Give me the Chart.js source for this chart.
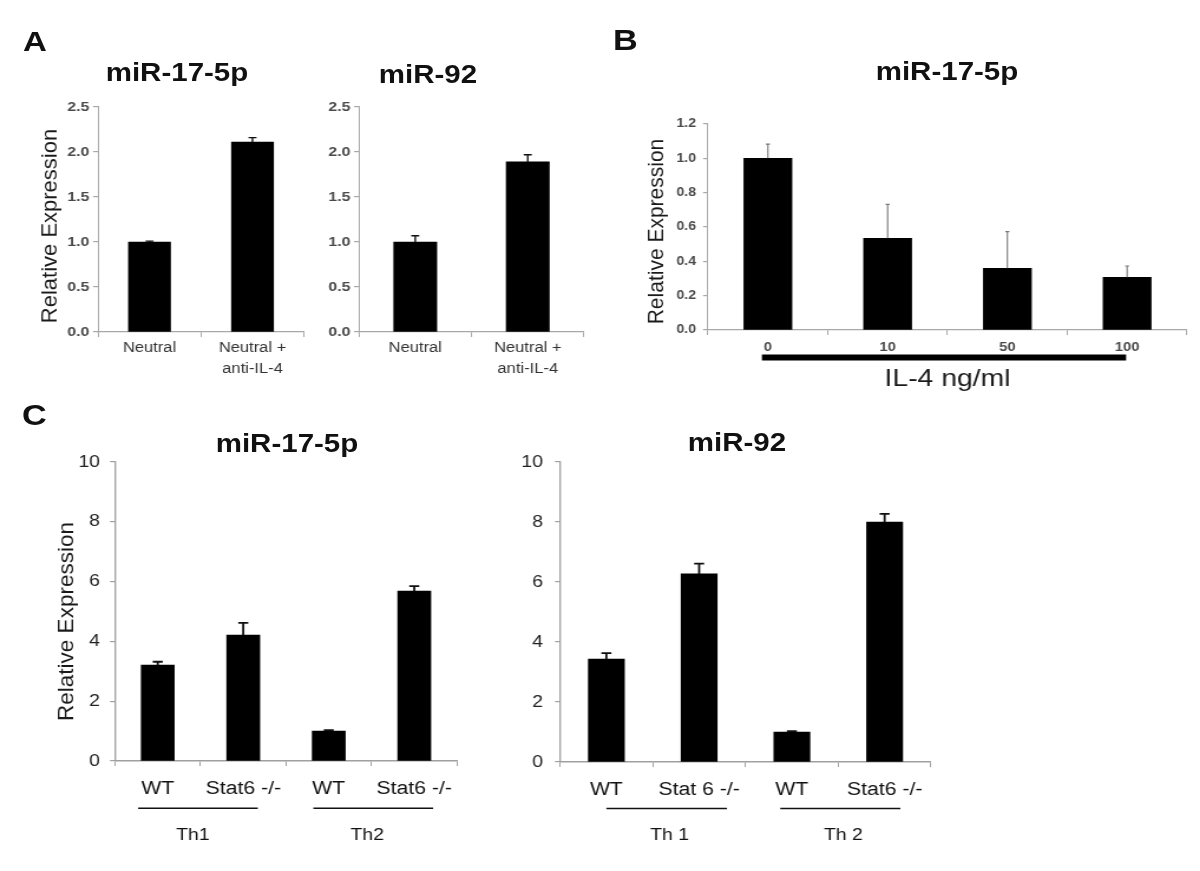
<!DOCTYPE html>
<html><head><meta charset="utf-8">
<script src="https://cdn.jsdelivr.net/npm/chart.js@4"></script>
<style>
html,body{margin:0;padding:0;background:#fff;}
body{width:1200px;height:871px;position:relative;overflow:hidden;font-family:"Liberation Sans",Arial,sans-serif;}
#wrap{position:absolute;left:0;top:0;height:871px;transform-origin:0 0;}
canvas{position:absolute;left:0;top:0;}
.t{position:absolute;white-space:nowrap;line-height:1;color:#111;}
</style></head><body>
<div id="wrap">
<canvas id="a1"></canvas>
<canvas id="a2"></canvas>
<canvas id="b"></canvas>
<canvas id="c1"></canvas>
<canvas id="c2"></canvas>
</div>
<script>
// ---------- DATA ----------
const catsA = [['Neutral'], ['Neutral +', 'anti-IL-4']];
const a1Values = [1.0, 2.11];
const a1Errors = [0.01, 0.05];
const a2Values = [1.0, 1.89];
const a2Errors = [0.07, 0.08];
const yTicksA = ['0.0', '0.5', '1.0', '1.5', '2.0', '2.5'];

const catsB = ['0', '10', '50', '100'];
const bValues = [1.0, 0.534, 0.359, 0.307];
const bErrors = [0.083, 0.198, 0.214, 0.066];
const yTicksB = ['0.0', '0.2', '0.4', '0.6', '0.8', '1.0', '1.2'];

const catsC1 = ['WT', 'Stat6 -/-', 'WT', 'Stat6 -/-'];
const catsC2 = ['WT', 'Stat 6 -/-', 'WT', 'Stat6 -/-'];
const groupsC1 = ['Th1', 'Th2'];
const groupsC2 = ['Th 1', 'Th 2'];
const c1Values = [3.21, 4.21, 1.0, 5.68];
const c1Errors = [0.11, 0.41, 0.03, 0.17];
const c2Values = [3.43, 6.27, 1.0, 8.0];
const c2Errors = [0.20, 0.34, 0.03, 0.27];
const yTicksC = ['0', '2', '4', '6', '8', '10'];

const yAxisTitle = 'Relative Expression';
const xAxisTitleB = 'IL-4 ng/ml';

// ---------- RENDERING ----------
// The figure is drawn in a horizontally compressed space and stretched by K,
// reproducing the wide glyphs of the original figure.
const K = 1.18;
const PW = 1200, PH = 871;
const CW = PW / K;
const FAM = '"Liberation Sans", Arial, sans-serif';
Chart.defaults.font.family = FAM;

const wrap = document.getElementById('wrap');
wrap.style.width = CW + 'px';
wrap.style.transform = 'scaleX(' + K + ')';
document.querySelectorAll('canvas').forEach(c => { c.width = Math.round(CW); c.height = PH; });
const X = px => px / K;   // page px -> internal px (horizontal)

function errPlugin(color, width, cap) {
  return {
    id: 'errbars',
    afterDatasetsDraw(chart) {
      const ds = chart.data.datasets[0];
      const meta = chart.getDatasetMeta(0);
      const ys = chart.scales.y;
      const ctx = chart.ctx;
      ctx.save();
      ctx.strokeStyle = color; ctx.lineWidth = width;
      meta.data.forEach((bar, i) => {
        const yTop = ys.getPixelForValue(ds.data[i] + ds.errors[i]);
        const x = bar.x;
        ctx.beginPath();
        ctx.moveTo(x, bar.y); ctx.lineTo(x, yTop);
        ctx.moveTo(x - X(cap) / 2, yTop); ctx.lineTo(x + X(cap) / 2, yTop);
        ctx.stroke();
      });
      ctx.restore();
    }
  };
}

function yTitlePlugin(text, size, pageX, dyFromCenter) {
  return {
    id: 'ytitle',
    afterDraw(chart) {
      const ctx = chart.ctx;
      const cy = (chart.chartArea.top + chart.chartArea.bottom) / 2 + dyFromCenter;
      ctx.save();
      ctx.font = size + 'px ' + FAM;
      ctx.fillStyle = '#1a1a1a';
      ctx.translate(X(pageX), cy);
      ctx.scale(1 / K, 1);  // keep vertical text glyphs unstretched
      ctx.rotate(-Math.PI / 2);
      ctx.textAlign = 'center'; ctx.textBaseline = 'middle';
      ctx.fillText(text, 0, 0);
      ctx.restore();
    }
  };
}

function groupPlugin(groups, lineDy, textDy, font) {
  return {
    id: 'groups',
    afterDraw(chart) {
      const xs = chart.scales.x, ctx = chart.ctx;
      const w = xs.getPixelForValue(1) - xs.getPixelForValue(0);
      const base = chart.chartArea.bottom;
      ctx.save();
      ctx.strokeStyle = '#111'; ctx.lineWidth = 1.6;
      ctx.fillStyle = '#111'; ctx.font = font;
      ctx.textAlign = 'center'; ctx.textBaseline = 'middle';
      groups.forEach(g => {
        const x1 = xs.getPixelForValue(g.from) + g.a * w;
        const x2 = xs.getPixelForValue(g.to) + g.b * w;
        ctx.beginPath(); ctx.moveTo(x1, base + lineDy); ctx.lineTo(x2, base + lineDy); ctx.stroke();
        ctx.fillText(g.label, (x1 + x2) / 2 + X(g.dx || 0), base + textDy);
      });
      ctx.restore();
    }
  };
}

const rangePlugin = {
  id: 'range',
  afterDraw(chart) {
    const xs = chart.scales.x, ctx = chart.ctx;
    const base = chart.chartArea.bottom;
    ctx.save();
    ctx.strokeStyle = '#000'; ctx.lineWidth = 6;
    ctx.beginPath();
    ctx.moveTo(xs.getPixelForValue(0) - X(6), base + 27.5);
    ctx.lineTo(xs.getPixelForValue(catsB.length - 1) - X(1), base + 27.5);
    ctx.stroke();
    ctx.restore();
  }
};

function build(id, o) {
  const cwInt = Math.round(CW);
  const padL = X(o.area.left - 60);
  return new Chart(document.getElementById(id), {
    type: 'bar',
    data: {
      labels: o.labels,
      datasets: [{ data: o.values, errors: o.errors, backgroundColor: '#000', borderWidth: 0, barThickness: X(o.barW) }]
    },
    options: {
      responsive: false, animation: false, events: [],
      layout: { padding: { left: padL, top: o.area.top, right: cwInt - X(o.area.right), bottom: PH - o.area.bottom - o.xH } },
      plugins: { legend: { display: false }, tooltip: { enabled: false }, title: { display: false } },
      scales: {
        x: {
          ticks: { font: o.xFont, color: o.xColor, padding: o.xPad, autoSkip: false, maxRotation: 0, minRotation: 0 },
          grid: { offset: true, drawOnChartArea: false, tickLength: 5, color: o.axisColor, lineWidth: X(1.2) },
          border: { color: o.axisColor, width: o.axisW },
          title: o.xTitle || { display: false },
          afterFit: s => { s.height = o.xH; }
        },
        y: {
          min: o.yMin, max: o.yMax,
          ticks: { stepSize: o.step, callback: (v, i) => o.yTicks[i], font: o.yFont, color: o.yColor, padding: X(o.yPad) },
          grid: { drawOnChartArea: false, tickLength: X(5), color: o.axisColor, lineWidth: 1.2 },
          border: { color: o.axisColor, width: X(o.axisW) },
          title: { display: false },
          afterFit: s => { s.width = X(o.area.left) - padL; }
        }
      }
    },
    plugins: o.plugins
  });
}

build('a1', {
  labels: catsA, values: a1Values, errors: a1Errors, barW: 42,
  area: { left: 98, top: 107, right: 304, bottom: 332 }, xH: 50,
  yMin: 0, yMax: 2.5, step: 0.5, yTicks: yTicksA,
  xFont: { size: 14, lineHeight: 1.5 }, xColor: '#333', xPad: 0.5,
  yFont: { size: 13.5, weight: 'bold' }, yColor: '#4a4a4a', yPad: 3.5,
  axisColor: '#a8a8a8', axisW: 1.2,
  plugins: [errPlugin('#111', 1.4, 8), yTitlePlugin(yAxisTitle, 22, 51, 6.5)]
});

build('a2', {
  labels: catsA, values: a2Values, errors: a2Errors, barW: 43,
  area: { left: 359, top: 107, right: 584, bottom: 332 }, xH: 50,
  yMin: 0, yMax: 2.5, step: 0.5, yTicks: yTicksA,
  xFont: { size: 14, lineHeight: 1.5 }, xColor: '#333', xPad: 0.5,
  yFont: { size: 13.5, weight: 'bold' }, yColor: '#4a4a4a', yPad: 3.5,
  axisColor: '#a8a8a8', axisW: 1.2,
  plugins: [errPlugin('#111', 1.4, 8)]
});

build('b', {
  labels: catsB, values: bValues, errors: bErrors, barW: 48,
  area: { left: 708, top: 124, right: 1187, bottom: 330 }, xH: 64,
  yMin: 0, yMax: 1.2, step: 0.2, yTicks: yTicksB,
  xFont: { size: 12.5, weight: 'bold' }, xColor: '#4a4a4a', xPad: 5,
  yFont: { size: 12, weight: 'bold' }, yColor: '#4a4a4a', yPad: 7,
  axisColor: '#a8a8a8', axisW: 1.2,
  xTitle: { display: true, text: xAxisTitleB, font: { size: 24, family: FAM }, color: '#1a1a1a', padding: { top: 0, bottom: 0 } },
  plugins: [errPlugin('#777', 1.1, 4), rangePlugin, yTitlePlugin(yAxisTitle, 21, 657, 4.5)]
});

build('c1', {
  labels: catsC1, values: c1Values, errors: c1Errors, barW: 33,
  area: { left: 115, top: 462, right: 457, bottom: 761 }, xH: 40,
  yMin: 0, yMax: 10, step: 2, yTicks: yTicksC,
  xFont: { size: 18 }, xColor: '#111', xPad: 12,
  yFont: { size: 16.5 }, yColor: '#222', yPad: 10,
  axisColor: '#a0a0a0', axisW: 1.6,
  plugins: [errPlugin('#111', 1.8, 10), yTitlePlugin(yAxisTitle, 22.5, 66.7, 10),
    groupPlugin([
      { label: groupsC1[0], from: 0, to: 1, a: -0.23, b: 0.17, dx: -5 },
      { label: groupsC1[1], from: 2, to: 3, a: -0.18, b: 0.22, dx: -6 }
    ], 47.3, 74, '16.5px ' + FAM)]
});

build('c2', {
  labels: catsC2, values: c2Values, errors: c2Errors, barW: 36,
  area: { left: 560, top: 462, right: 931, bottom: 762 }, xH: 40,
  yMin: 0, yMax: 10, step: 2, yTicks: yTicksC,
  xFont: { size: 18 }, xColor: '#111', xPad: 12,
  yFont: { size: 16.5 }, yColor: '#222', yPad: 12,
  axisColor: '#a0a0a0', axisW: 1.6,
  plugins: [errPlugin('#111', 1.8, 10), groupPlugin([
    { label: groupsC2[0], from: 0, to: 1, a: 0, b: 0.30, dx: 3 },
    { label: groupsC2[1], from: 2, to: 3, a: -0.125, b: 0.17, dx: 3 }
  ], 46.5, 73, '16.5px ' + FAM)]
});

// ---------- HTML TEXT (panel letters, titles) ----------
function txt(s, pageX, capY, size, weight, center) {
  const d = document.createElement('div');
  d.className = 't';
  d.textContent = s;
  d.style.fontSize = size + 'px';
  d.style.fontWeight = weight;
  d.style.top = (capY - size * 0.4885) + 'px';
  d.style.left = X(pageX) + 'px';
  if (center) d.style.transform = 'translateX(-50%)';
  wrap.appendChild(d);
}
txt('A', 23, 41.7, 28, 'bold', false);
txt('B', 613, 40, 29, 'bold', false);
txt('C', 22, 415.5, 29, 'bold', false);
txt('miR-17-5p', 177, 72.5, 25, 'bold', true);
txt('miR-92', 428, 73.8, 25, 'bold', true);
txt('miR-17-5p', 947, 71.7, 25, 'bold', true);
txt('miR-17-5p', 287, 443, 25, 'bold', true);
txt('miR-92', 737, 442.5, 25, 'bold', true);
</script>
</body></html>
